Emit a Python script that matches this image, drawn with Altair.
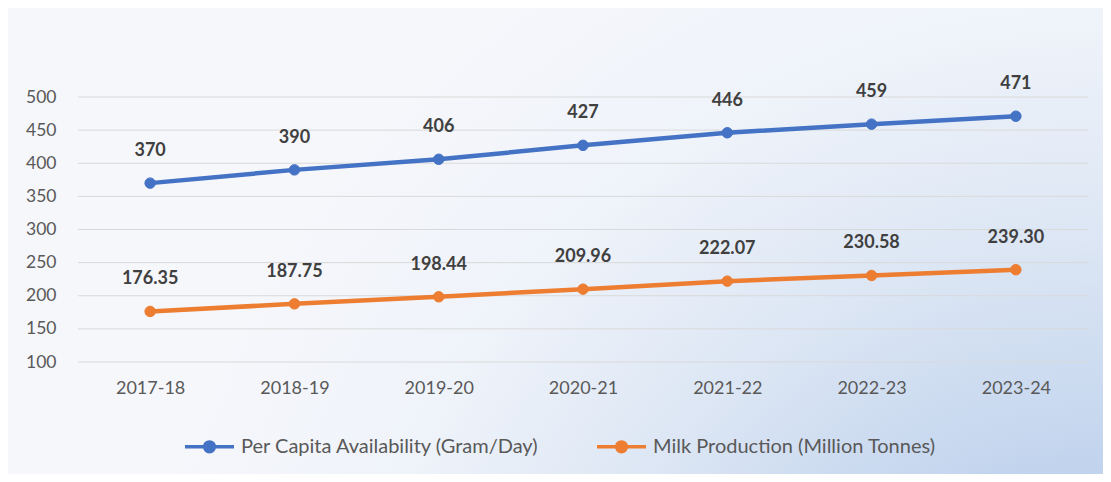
import altair as alt
import pandas as pd

years = ["2017-18", "2018-19", "2019-20", "2020-21", "2021-22", "2022-23", "2023-24"]
per_capita = [370, 390, 406, 427, 446, 459, 471]
milk = [176.35, 187.75, 198.44, 209.96, 222.07, 230.58, 239.30]
series_names = ["Per Capita Availability (Gram/Day)", "Milk Production (Million Tonnes)"]
colors = ["#4472c4", "#ed7d31"]
y_ticks = [100, 150, 200, 250, 300, 350, 400, 450, 500]

rows = []
for yr, v in zip(years, per_capita):
    rows.append({"year": yr, "value": v, "series": series_names[0], "label": str(v)})
for yr, v in zip(years, milk):
    rows.append({"year": yr, "value": v, "series": series_names[1], "label": f"{v:.2f}"})
df = pd.DataFrame(rows)
grid_df = pd.DataFrame({"value": y_ticks})

W, H = 1010, 265
PAD_L, PAD_T, PAD_R, PAD_B = 70, 89, 15, 112
FONT = "Lato"

x = alt.X("year:O", sort=years, scale=alt.Scale(type="point", padding=0.5),
          axis=alt.Axis(title=None, labelAngle=0, ticks=False, domain=False, grid=False,
                        labelPadding=17, labelFontSize=18, labelColor="#595959", labelFont=FONT,
                        zindex=1))
yscale = alt.Scale(domain=[100, 500], nice=False, zero=False)
yaxis = alt.Axis(title=None, values=y_ticks, ticks=False, domain=False, grid=False,
                 labelPadding=22, labelFontSize=17.5, labelColor="#595959",
                 labelFont=FONT, labelOverlap=False, zindex=1)
y = alt.Y("value:Q", scale=yscale, axis=yaxis)

sym_path = "M-1,0 L1,0 M-0.2,0 A0.2,0.2 0 1,1 0.2,0 A0.2,0.2 0 1,1 -0.2,0 Z"
legend = alt.Legend(title=None, orient="none", legendX=105, legendY=323, direction="horizontal",
                    symbolType=sym_path, symbolSize=2401, symbolStrokeWidth=3.5,
                    labelFontSize=20, labelColor="#595959", labelFont=FONT, labelLimit=0,
                    columnPadding=50, labelOffset=5, zindex=1)
stroke = alt.Stroke("series:N", sort=series_names,
                    scale=alt.Scale(domain=series_names, range=colors), legend=legend)
fill = alt.Fill("series:N", sort=series_names,
                scale=alt.Scale(domain=series_names, range=colors), legend=legend)

bg = alt.Chart(pd.DataFrame({"a": [0]})).mark_rect(
    fill=alt.RadialGradient(gradient="radial", x1=1, y1=1, r1=0, x2=1, y2=1, r2=1,
                            stops=[alt.GradientStop(color="#9db8e0", offset=0),
                                   alt.GradientStop(color="#bcd0ec", offset=0.25),
                                   alt.GradientStop(color="#dce6f4", offset=0.5),
                                   alt.GradientStop(color="#eff3fa", offset=0.7),
                                   alt.GradientStop(color="#f6f7fb", offset=0.9)])
).encode(x=alt.value(-PAD_L), x2=alt.value(W + PAD_R), y=alt.value(-PAD_T), y2=alt.value(H + PAD_B))

grid = alt.Chart(grid_df).mark_rule(color="#d9d9d9", strokeWidth=1).encode(y=y)

base = alt.Chart(df)
line = base.mark_line(strokeWidth=4.5).encode(x=x, y=y, stroke=stroke, detail="series:N")
pts = base.mark_point(filled=True, size=110, opacity=1, strokeWidth=1).encode(x=x, y=y, fill=fill, stroke=stroke)
labels = base.mark_text(dy=-32, fontSize=18, fontWeight="bold", color="#404040", font=FONT).encode(
    x=x, y=y, text="label:N")

chart = alt.layer(bg, grid, line, pts, labels).properties(
    width=W, height=H,
    autosize=alt.AutoSizeParams(type="none"),
    padding={"left": PAD_L, "top": PAD_T, "right": PAD_R, "bottom": PAD_B},
    background="#f6f7fb",
).configure_view(stroke=None)

chart.save("out.html", embed_options={"renderer": "svg", "actions": False})
